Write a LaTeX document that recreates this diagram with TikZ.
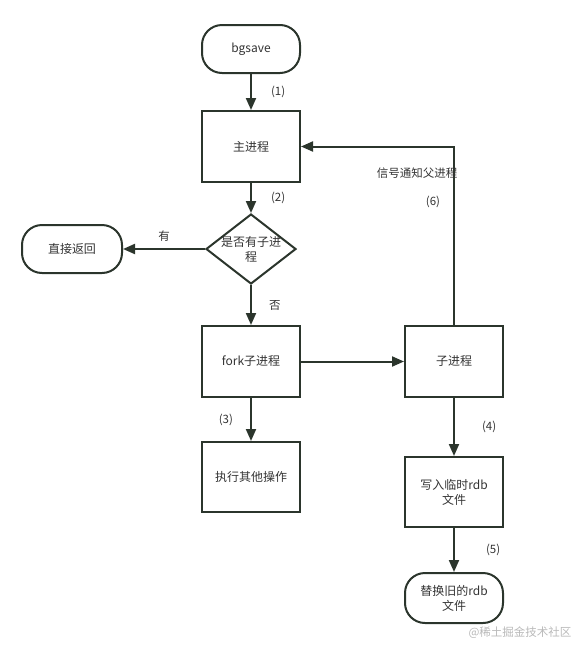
\documentclass[tikz,border=0pt]{standalone}
\usepackage{fontspec}
\setmainfont{Noto Sans CJK SC}
\usepackage{xcolor}
\usetikzlibrary{arrows.meta, positioning, shapes.geometric}
\definecolor{flowline}{HTML}{2B352C}
\definecolor{flowtext}{HTML}{333333}

\begin{document}
\begin{tikzpicture}[
    x=1pt, y=-1pt,
    font=\fontsize{12}{15}\selectfont, text=flowtext,
    proc/.style={draw=flowline, line width=2pt, align=center, minimum width=98pt, minimum height=71pt, inner sep=2pt},
    term/.style={draw=flowline, line width=2pt, rounded corners=20pt, align=center, minimum width=98pt, minimum height=48pt, inner sep=2pt},
    dec/.style={draw=flowline, line width=2pt, diamond, minimum width=90pt, minimum height=70pt, inner sep=0pt},
    lbl/.style={inner sep=1pt, font=\fontsize{11.5}{13}\selectfont},
    arr/.style={-{Triangle[length=12pt, width=10pt]}, line width=2pt, draw=flowline}
  ]
    \useasboundingbox (0,0) rectangle (578,646);
    \node[term] (bg) at (251,49) {bgsave};
    \node[proc, below=36pt of bg] (main) {主进程};
    \node[dec, below=30pt of main, label={[align=center, inner sep=0pt]center:是否有子进\\程}] (chk) {};
    \node[term, minimum width=100pt, left=82pt of chk] (ret) {直接返回};
    \node[proc, below=40pt of chk] (fork) {fork子进程};
    \node[proc, right=103pt of fork] (child) {子进程};
    \node[proc, minimum height=70pt, below=43pt of fork] (other) {执行其他操作};
    \node[proc, minimum height=70pt, below=58pt of child] (write) {写入临时rdb\\文件};
    \node[term, minimum height=50pt, below=44pt of write] (repl) {替换旧的rdb\\文件};
    \draw[arr] (bg) -- node[lbl, right=18pt] {(1)} (main);
    \draw[arr] (main) -- node[lbl, right=18pt] {(2)} (chk);
    \draw[arr] (chk) -- node[lbl, above=6pt] {有} (ret);
    \draw[arr] (chk) -- node[lbl, right=16pt] {否} (fork);
    \draw[arr] (fork) -- (child);
    \draw[arr] (fork) -- node[lbl, left=16pt] {(3)} (other);
    \draw[arr] (child) -- node[lbl, right=26pt] {(4)} (write);
    \draw[arr] (write) -- node[lbl, right=30pt] {(5)} (repl);
    \draw[arr] (child.north) |- node[lbl, pos=0.425, xshift=-37pt] {信号通知父进程}
      node[lbl, pos=0.344, xshift=-21pt] {(6)} (main.east);
    % watermark
    \node[lbl, text=gray!55] (mark) at (520,633) {@稀土掘金技术社区};
\end{tikzpicture}
\end{document}
